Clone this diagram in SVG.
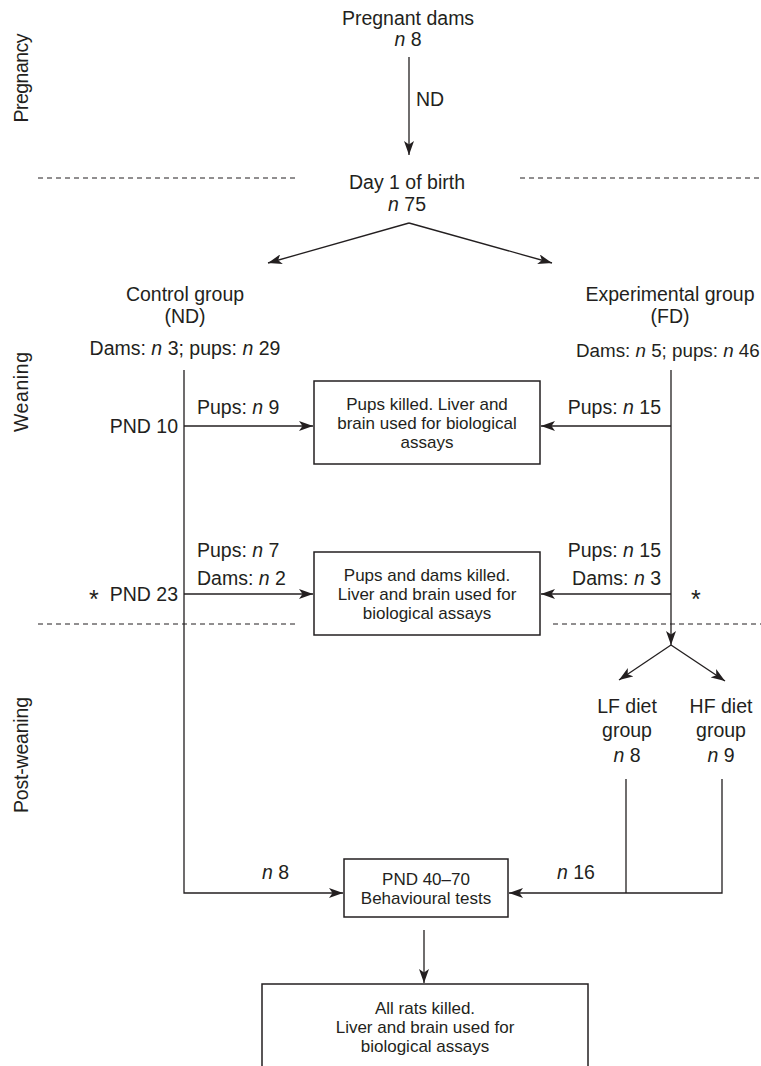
<svg xmlns="http://www.w3.org/2000/svg" width="761" height="1066" viewBox="0 0 761 1066">
<defs>
<marker id="ah" viewBox="0 0 14 10" refX="14" refY="5" markerWidth="14" markerHeight="10" markerUnits="userSpaceOnUse" orient="auto">
<path d="M0,0 L14,5 L0,10 L3.5,5 Z" fill="#231f20"/>
</marker>
<style>
text{font-family:"Liberation Sans",Arial,sans-serif;fill:#231f20}
.t{font-size:19.5px}
.b{font-size:17px}
.s{font-size:25px}
.c{text-anchor:middle}
.e{text-anchor:end}
.i{font-style:italic}
.ln{stroke:#231f20;stroke-width:1.3;fill:none}
.ar{stroke:#231f20;stroke-width:1.3;fill:none;marker-end:url(#ah)}
.box{stroke:#231f20;stroke-width:1.5;fill:#fff}
.dash{stroke:#231f20;stroke-width:1;stroke-dasharray:5 4;fill:none}
</style>
</defs>
<rect width="761" height="1066" fill="#fff"/>

<g id="phases">
<text class="t c" transform="translate(28,78) rotate(-90)" textLength="89">Pregnancy</text>
<text class="t c" transform="translate(28,392) rotate(-90)" textLength="80">Weaning</text>
<text class="t c" transform="translate(28,755) rotate(-90)" textLength="116">Post-weaning</text>
<line class="dash" x1="38" y1="178" x2="298" y2="178"/>
<line class="dash" x1="520" y1="178" x2="761" y2="178"/>
<line class="dash" x1="38" y1="624" x2="298" y2="624"/>
<line class="dash" x1="553" y1="624" x2="761" y2="624"/>
</g>

<g id="connectors">
<line class="ar" x1="409" y1="57" x2="409" y2="155"/>
<line class="ar" x1="409" y1="223" x2="268" y2="263"/>
<line class="ar" x1="409" y1="223" x2="552" y2="263"/>
<polyline class="ar" points="184,370 184,893 343,893"/>
<line class="ar" x1="671" y1="370" x2="671" y2="645"/>
<line class="ar" x1="184" y1="426" x2="313" y2="426"/>
<line class="ar" x1="671" y1="426" x2="541" y2="426"/>
<line class="ar" x1="184" y1="594" x2="313" y2="594"/>
<line class="ar" x1="671" y1="594" x2="541" y2="594"/>
<line class="ar" x1="671" y1="645" x2="619" y2="680"/>
<line class="ar" x1="671" y1="645" x2="725" y2="681"/>
<line class="ln" x1="626" y1="779" x2="626" y2="893"/>
<polyline class="ar" points="722,779 722,893 509,893"/>
<line class="ar" x1="424" y1="930" x2="424" y2="983"/>
<text class="t" x="416" y="106">ND</text>
<text class="t e" x="178" y="433">PND 10</text>
<text class="t" x="197" y="414">Pups: <tspan class="i">n</tspan> 9</text>
<text class="t e" x="661" y="414">Pups: <tspan class="i">n</tspan> 15</text>
<text class="s" x="89" y="608">*</text>
<text class="t e" x="178" y="601">PND 23</text>
<text class="t" x="197" y="557">Pups: <tspan class="i">n</tspan> 7</text>
<text class="t" x="197" y="585">Dams: <tspan class="i">n</tspan> 2</text>
<text class="t e" x="661" y="557">Pups: <tspan class="i">n</tspan> 15</text>
<text class="t e" x="661" y="585">Dams: <tspan class="i">n</tspan> 3</text>
<text class="s" x="691" y="608">*</text>
<text class="t" x="262" y="879"><tspan class="i">n</tspan> 8</text>
<text class="t" x="557" y="879"><tspan class="i">n</tspan> 16</text>
</g>

<g id="pregnant-dams">
<text class="t c" x="408" y="25">Pregnant dams</text>
<text class="t c" x="408" y="46"><tspan class="i">n</tspan> 8</text>
</g>

<g id="day1">
<text class="t c" x="407" y="189">Day 1 of birth</text>
<text class="t c" x="407" y="211"><tspan class="i">n</tspan> 75</text>
</g>

<g id="control-group">
<text class="t c" x="185" y="301">Control group</text>
<text class="t c" x="185" y="323">(ND)</text>
<text class="t c" x="185" y="355">Dams: <tspan class="i">n</tspan> 3; pups: <tspan class="i">n</tspan> 29</text>
</g>

<g id="experimental-group">
<text class="t c" x="670" y="301">Experimental group</text>
<text class="t c" x="670" y="323">(FD)</text>
<text x="576" y="357" style="font-size:18.8px">Dams: <tspan class="i">n</tspan> 5; pups: <tspan class="i">n</tspan> 46</text>
</g>

<g id="box-pnd10">
<rect class="box" x="314" y="381" width="226" height="83"/>
<text class="b c" x="427" y="410">Pups killed. Liver and</text>
<text class="b c" x="427" y="429">brain used for biological</text>
<text class="b c" x="427" y="448">assays</text>
</g>

<g id="box-pnd23">
<rect class="box" x="314" y="552" width="226" height="83"/>
<text class="b c" x="427" y="581">Pups and dams killed.</text>
<text class="b c" x="427" y="600">Liver and brain used for</text>
<text class="b c" x="427" y="619">biological assays</text>
</g>

<g id="lf-group">
<text class="t c" x="627" y="713">LF diet</text>
<text class="t c" x="627" y="737">group</text>
<text class="t c" x="627" y="762"><tspan class="i">n</tspan> 8</text>
</g>

<g id="hf-group">
<text class="t c" x="721" y="713">HF diet</text>
<text class="t c" x="721" y="737">group</text>
<text class="t c" x="721" y="762"><tspan class="i">n</tspan> 9</text>
</g>

<g id="box-behaviour">
<rect class="box" x="344" y="859" width="164" height="58"/>
<text class="b c" x="426" y="885">PND 40–70</text>
<text class="b c" x="426" y="904">Behavioural tests</text>
</g>

<g id="box-final">
<rect class="box" x="262" y="984" width="326" height="100"/>
<text class="b c" x="425" y="1014">All rats killed.</text>
<text class="b c" x="425" y="1033">Liver and brain used for</text>
<text class="b c" x="425" y="1052">biological assays</text>
</g>
</svg>
